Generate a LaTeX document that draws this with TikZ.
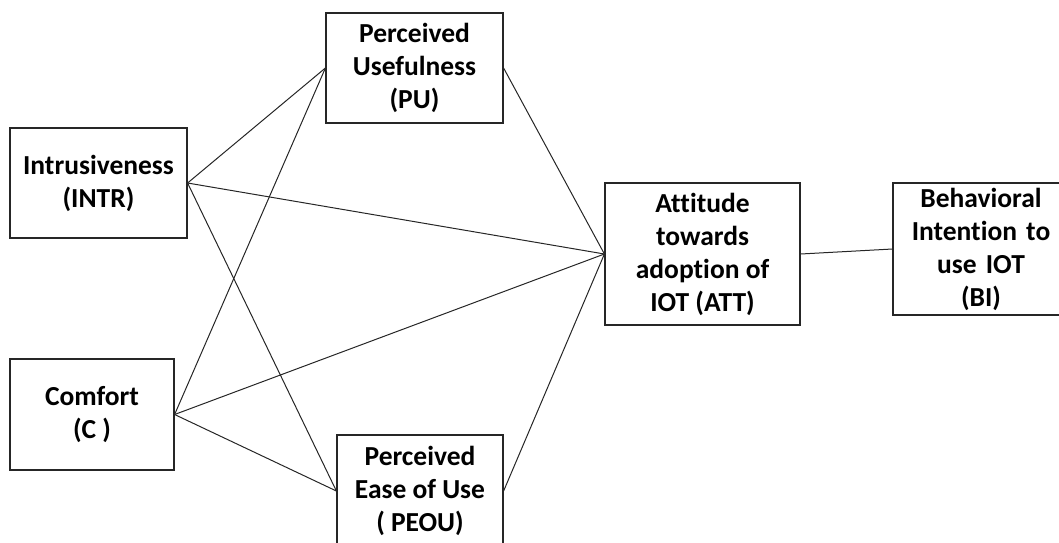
\documentclass[tikz,border=0pt]{standalone}
\usepackage{fontspec}
\setmainfont[Ligatures=NoCommon]{Carlito}
\begin{document}
\begin{tikzpicture}[x=1pt,y=-1pt,
  box/.style={draw=black!85,line width=1.2pt,fill=white,align=center,inner sep=0pt,
    font=\fontsize{27.5}{33}\selectfont\bfseries},
  link/.style={draw=black!85,line width=1pt}]
\useasboundingbox (0,0) rectangle (1059,542);
\clip (0,0) rectangle (1059,542);
\node[box,minimum width=177pt,minimum height=110pt] (intr) at (98.5,183) {Intrusiveness\\(INTR)};
\node[box,minimum width=164pt,minimum height=111pt] (c) at (92,414.5) {Comfort\\(C )};
\node[box,minimum width=177pt,minimum height=110pt] (pu) at (414.5,68) {Perceived\\Usefulness\\(PU)};
\node[box,minimum width=166pt,minimum height=112pt] (peou) at (420,491) {Perceived\\Ease of Use\\( PEOU)};
\node[box,minimum width=195pt,minimum height=142pt] (att) at (702.5,254) {Attitude\\towards\\adoption of\\IOT (ATT)};
\node[box,minimum width=176pt,minimum height=132pt,text width=170pt] (bi) at (981,249) {Behavioral\\Intention to\\use IOT\\(BI)};
\draw[link] (intr.east) -- (pu.west);
\draw[link] (intr.east) -- (att.west);
\draw[link] (intr.east) -- (peou.west);
\draw[link] (c.east) -- (pu.west);
\draw[link] (c.east) -- (att.west);
\draw[link] (c.east) -- (peou.west);
\draw[link] (pu.east) -- (att.west);
\draw[link] (peou.east) -- (att.west);
\draw[link] (att.east) -- (bi.west);
\end{tikzpicture}
\end{document}
